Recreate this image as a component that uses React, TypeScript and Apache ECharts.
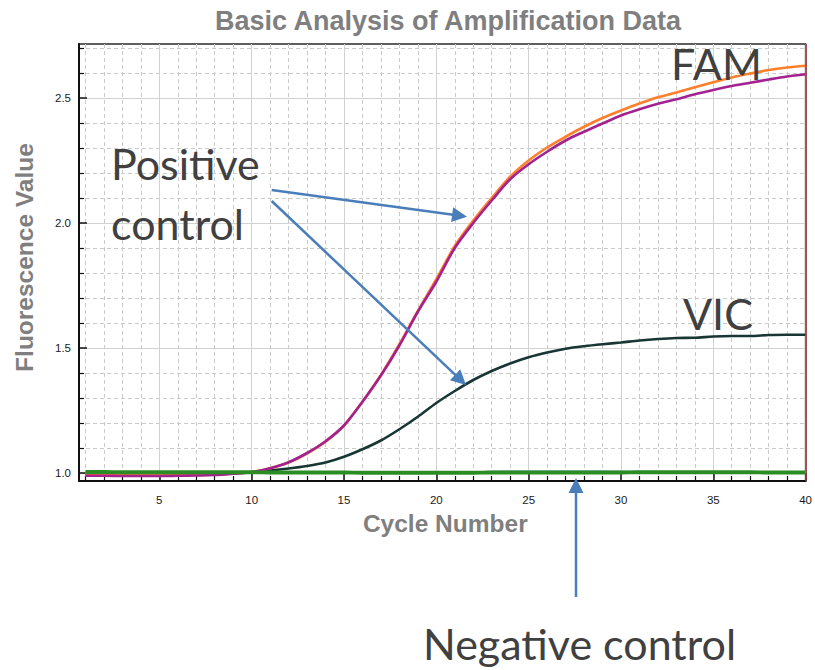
import React, { useEffect, useRef } from "react";
import * as echarts from "echarts";

const cycles = [1, 2, 3, 4, 5, 6, 7, 8, 9, 10, 11, 12, 13, 14, 15, 16, 17, 18, 19, 20, 21, 22, 23, 24, 25, 26, 27, 28, 29, 30, 31, 32, 33, 34, 35, 36, 37, 38, 39, 40];

const famOrange = [0.992, 0.992, 0.991, 0.991, 0.991, 0.992, 0.992, 0.994, 0.998, 1.004, 1.019, 1.042, 1.078, 1.125, 1.19, 1.285, 1.392, 1.515, 1.648, 1.775, 1.908, 2.01, 2.1, 2.185, 2.25, 2.302, 2.345, 2.385, 2.42, 2.45, 2.478, 2.503, 2.522, 2.543, 2.563, 2.582, 2.598, 2.612, 2.622, 2.629];
const famMagenta = [0.989, 0.989, 0.988, 0.988, 0.988, 0.989, 0.99, 0.992, 0.997, 1.003, 1.019, 1.043, 1.08, 1.127, 1.19, 1.285, 1.39, 1.51, 1.645, 1.765, 1.9, 2.0, 2.09, 2.175, 2.235, 2.285, 2.33, 2.365, 2.398, 2.43, 2.455, 2.477, 2.495, 2.515, 2.532, 2.548, 2.561, 2.574, 2.586, 2.595];
const vicCurve = [0.996, 0.995, 0.994, 0.993, 0.993, 0.993, 0.994, 0.996, 0.999, 1.004, 1.01, 1.018, 1.028, 1.042, 1.065, 1.095, 1.13, 1.175, 1.225, 1.28, 1.328, 1.372, 1.408, 1.438, 1.463, 1.482, 1.497, 1.507, 1.515, 1.522, 1.53, 1.536, 1.54, 1.541, 1.546, 1.548, 1.548, 1.552, 1.553, 1.553];
const negBlue = [1.0, 1.0, 1.0, 1.0, 1.0, 1.0, 1.0, 1.0, 1.0, 1.0, 1.0, 1.0, 1.0, 1.0, 1.0, 1.0, 1.0, 1.0, 1.0, 1.0, 1.0, 1.002, 1.006, 1.007, 1.007, 1.007, 1.007, 1.007, 1.007, 1.006, 1.006, 1.005, 1.003, 1.002, 1.002, 1.002, 1.002, 1.002, 1.002, 1.002];
const negGreen = [1.004, 1.004, 1.003, 1.003, 1.003, 1.003, 1.003, 1.003, 1.003, 1.003, 1.002, 1.002, 1.002, 1.002, 1.002, 1.001, 1.001, 1.001, 1.001, 1.001, 1.001, 1.001, 1.002, 1.002, 1.002, 1.002, 1.002, 1.002, 1.002, 1.002, 1.003, 1.003, 1.003, 1.003, 1.003, 1.003, 1.003, 1.002, 1.002, 1.002];

const xMajorTicks = [5, 10, 15, 20, 25, 30, 35, 40];
const xMinorTicks = [1, 2, 3, 4, 6, 7, 8, 9, 11, 12, 13, 14, 16, 17, 18, 19, 21, 22, 23, 24, 26, 27, 28, 29, 31, 32, 33, 34, 36, 37, 38, 39];
const yMajorTicks = [1.0, 1.5, 2.0, 2.5];
const yMinorTicks = [1.1, 1.2, 1.3, 1.4, 1.6, 1.7, 1.8, 1.9, 2.1, 2.2, 2.3, 2.4, 2.6, 2.7];
const cutoffCycle = [40];

const titleText = "Basic Analysis of Amplification Data";
const xName = "Cycle Number";
const yName = "Fluorescence Value";

const X_MIN = 0.65;
const X_MAX = 40;
const Y_MIN = 0.968;
const Y_MAX = 2.716;

const AX_FONT = "'Liberation Sans', Arial, sans-serif";
const NOTE_FONT = "Lato, 'Open Sans', sans-serif";
const ARROW_COLOR = "#4a7ebb";

function arrow(x1: number, y1: number, x2: number, y2: number, len = 15, half = 7.5) {
  const dx = x2 - x1;
  const dy = y2 - y1;
  const d = Math.sqrt(dx * dx + dy * dy);
  const ux = dx / d;
  const uy = dy / d;
  const bx = x2 - ux * len;
  const by = y2 - uy * len;
  const px = -uy;
  const py = ux;
  return [
    {
      type: "line",
      shape: { x1, y1, x2: bx + ux * 1, y2: by + uy * 1 },
      style: { stroke: ARROW_COLOR, lineWidth: 2.5 },
      z: 100,
    },
    {
      type: "polygon",
      shape: {
        points: [
          [x2, y2],
          [bx + px * half, by + py * half],
          [bx - px * half, by - py * half],
        ],
      },
      style: { fill: ARROW_COLOR },
      z: 100,
    },
  ];
}

function note(text: string, x: number, y: number) {
  return {
    type: "text",
    x,
    y,
    z: 100,
    style: {
      text,
      fill: "#404040",
      font: `43px ${NOTE_FONT}`,
      align: "left",
      verticalAlign: "middle",
    },
  };
}

function lineSeries(name: string, values: number[], color: string, width: number, z: number) {
  return {
    type: "line",
    name,
    xAxisIndex: 0,
    yAxisIndex: 0,
    data: cycles.map((c, i) => [c, values[i]]),
    symbol: "none",
    showSymbol: false,
    smooth: 0.3,
    lineStyle: { color, width },
    itemStyle: { color },
    z,
    silent: true,
  };
}

export default function App() {
  const ref = useRef<HTMLDivElement>(null);
  useEffect(() => {
    if (!ref.current) return;
    const chart = echarts.init(ref.current, undefined, { renderer: "svg" });
    const greenSeries: any = lineSeries("Negative", negGreen, "#2b8c23", 4, 6);
    greenSeries.markLine = {
      silent: true,
      symbol: ["none", "none"],
      label: { show: false },
      lineStyle: { color: "#9b3636", width: 1.6, type: "solid" },
      data: cutoffCycle.map((c) => ({ xAxis: c })),
    };
    chart.setOption({
      animation: false,
      backgroundColor: "#ffffff",
      title: {
        text: titleText,
        left: 448,
        top: 7,
        padding: 0,
        textAlign: "center",
        textStyle: { fontFamily: AX_FONT, fontWeight: "bold", fontSize: 27, color: "#7f7f7f" },
      },
      grid: {
        left: 79,
        right: 7,
        top: 44,
        bottom: 189,
        show: true,
        borderColor: "#2a2a2a",
        borderWidth: 1.5,
        backgroundColor: "transparent",
      },
      xAxis: [
        {
          type: "value",
          position: "bottom",
          min: X_MIN,
          max: X_MAX,
          name: xName,
          nameLocation: "middle",
          nameGap: 27,
          nameTextStyle: { fontFamily: AX_FONT, fontWeight: "bold", fontSize: 24.5, color: "#7f7f7f", padding: [0, 0, 0, 6] },
          axisLine: { show: true, onZero: false, lineStyle: { color: "#111", width: 2 } },
          axisTick: { show: true, inside: true, length: 8, customValues: xMajorTicks, lineStyle: { color: "#111", width: 1.5 } },
          axisLabel: { show: true, customValues: xMajorTicks, margin: 13, fontFamily: AX_FONT, fontSize: 11.5, color: "#1a1a1a" },
          splitLine: { show: true, lineStyle: { color: "#d2d2d2", width: 1, type: "solid" } },
        },
        {
          type: "value",
          position: "bottom",
          min: X_MIN,
          max: X_MAX,
          axisLine: { show: false, onZero: false },
          axisTick: { show: true, inside: true, length: 5, customValues: xMinorTicks, lineStyle: { color: "#111", width: 1.2 } },
          axisLabel: { show: false },
          splitLine: { show: true, lineStyle: { color: "#cacaca", width: 1, type: [4, 3] } },
        },
      ],
      yAxis: [
        {
          type: "value",
          position: "left",
          min: Y_MIN,
          max: Y_MAX,
          name: yName,
          nameLocation: "middle",
          nameGap: 42,
          nameTextStyle: { fontFamily: AX_FONT, fontWeight: "bold", fontSize: 24.5, color: "#7f7f7f", padding: [0, 0, 0, 10] },
          axisLine: { show: true, onZero: false, lineStyle: { color: "#111", width: 2 } },
          axisTick: { show: true, inside: true, length: 8, customValues: yMajorTicks, lineStyle: { color: "#111", width: 1.5 } },
          axisLabel: {
            show: true,
            customValues: yMajorTicks,
            margin: 8,
            fontFamily: AX_FONT,
            fontSize: 11.5,
            color: "#1a1a1a",
            formatter: (v: number) => v.toFixed(1),
          },
          splitLine: { show: true, lineStyle: { color: "#d2d2d2", width: 1, type: "solid" } },
        },
        {
          type: "value",
          position: "left",
          min: Y_MIN,
          max: Y_MAX,
          axisLine: { show: false, onZero: false },
          axisTick: { show: true, inside: true, length: 5, customValues: yMinorTicks, lineStyle: { color: "#111", width: 1.2 } },
          axisLabel: { show: false },
          splitLine: { show: true, lineStyle: { color: "#cacaca", width: 1, type: [4, 3] } },
        },
      ],
      series: [
        lineSeries("VIC", vicCurve, "#173634", 2.6, 3),
        lineSeries("FAM 1", famOrange, "#ff7f2a", 2.6, 4),
        lineSeries("FAM 2", famMagenta, "#a4228f", 2.6, 5),
        lineSeries("Negative 2", negBlue, "#8fb3d9", 2, 5),
        greenSeries,
      ],
      graphic: [
        note("Positive", 111, 163),
        note("control", 111, 223),
        note("FAM", 671, 63),
        note("VIC", 683, 313),
        note("Negative control", 423, 643),
        ...arrow(271.7, 190, 467, 216.7),
        ...arrow(271.7, 201, 466, 385),
        ...arrow(576, 597, 576, 478),
      ],
    });
    return () => chart.dispose();
  }, []);
  return <div ref={ref} style={{ position: "fixed", left: 0, top: 0, width: 815, height: 670 }} />;
}
